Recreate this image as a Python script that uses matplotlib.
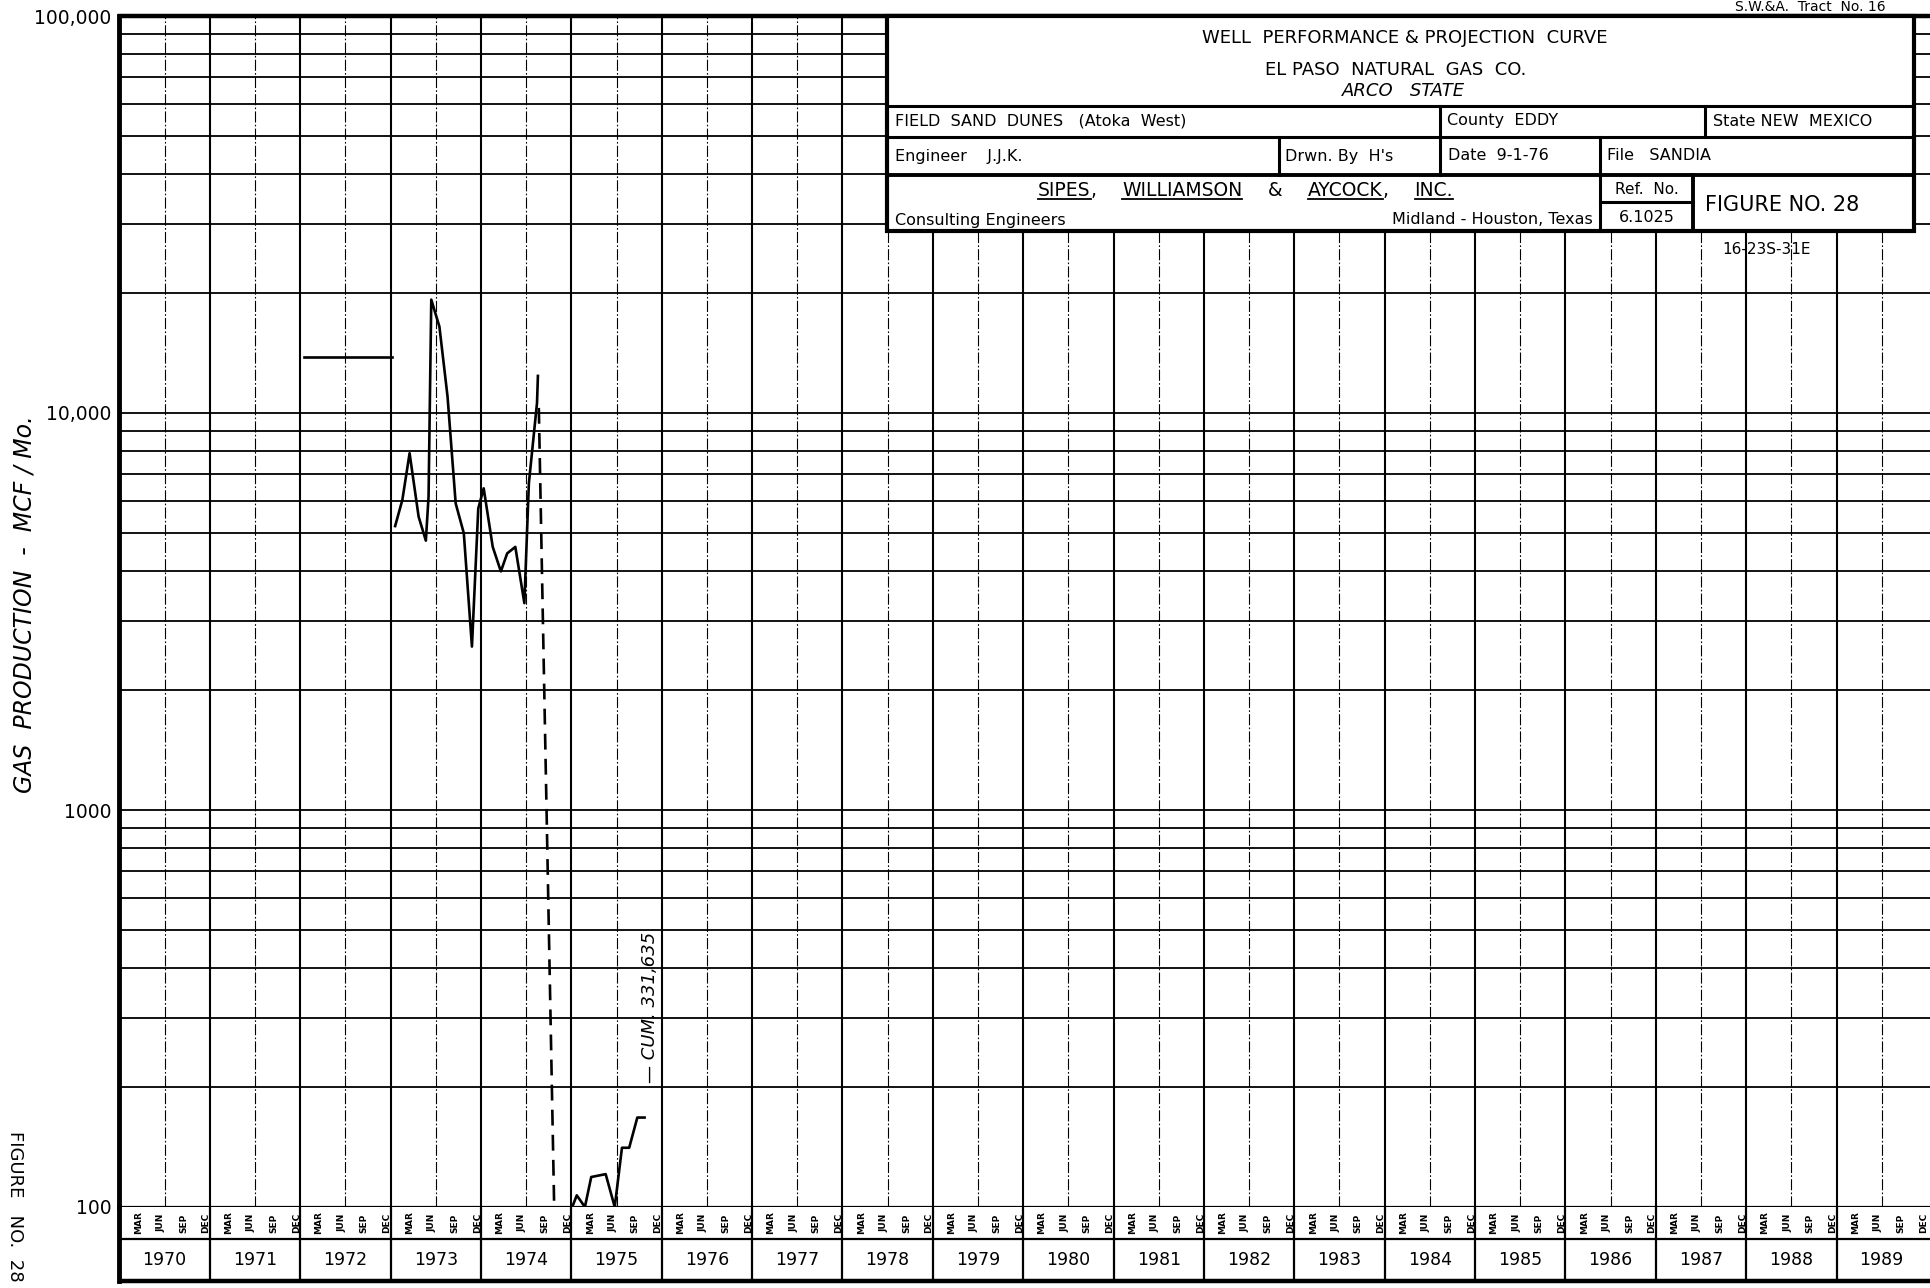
import matplotlib.pyplot as plt
from matplotlib.lines import Line2D
from matplotlib.patches import Rectangle
from matplotlib.ticker import NullFormatter

# --- data (time in decimal years, gas rate in MCF/Mo.) ---
avg_1972_t = [1972.04, 1973.01]
avg_1972_q = [13800, 13800]

prod_t = [1973.05, 1973.13, 1973.21, 1973.31, 1973.39, 1973.42, 1973.45, 1973.54,
          1973.63, 1973.72, 1973.81, 1973.90, 1973.97, 1974.03, 1974.13, 1974.22,
          1974.29, 1974.38, 1974.48, 1974.53, 1974.62, 1974.63]
prod_q = [5190, 6040, 7920, 5480, 4770, 6160, 19300, 16500,
          11000, 5920, 4980, 2580, 5750, 6460, 4600, 3990,
          4430, 4600, 3320, 6650, 10600, 12400]

drop_t = [1974.64, 1974.81]
drop_q = [10300, 100]

prod_1975_t = [1975.01, 1975.06, 1975.15, 1975.22, 1975.38, 1975.48, 1975.56,
               1975.64, 1975.73, 1975.81]
prod_1975_q = [100, 107, 100, 119, 121, 100, 141, 141, 168, 168]

cum_t = 1975.87
cum_q = 205
cum_label = "\u2014 CUM. 331,635"

years = list(range(1970, 1990))
months = ["MAR", "JUN", "SEP", "DEC"]
y_ticks = [100, 1000, 10000, 100000]
y_tick_labels = ["100", "1000", "10,000", "100,000"]

# --- layout, in pixels of the 1931x1288 sheet ---
W, H = 1931, 1288
X0 = 119.5          # left border of the grid
YEAR_PX = 90.37     # width of one year
x_max = 1970 + (W - X0) / YEAR_PX


def fx(px):
    return px / W


def fy(py):
    return 1 - py / H


plt.rcParams["font.family"] = "DejaVu Sans"
fig = plt.figure(figsize=(W / 100, H / 100), dpi=100)

# main semi-log grid
ax = fig.add_axes([fx(X0), fy(1207), 1 - fx(X0), fy(16) - fy(1207)])
ax.set_yscale("log")
ax.set_ylim(100, 100000)
ax.set_xlim(1970, x_max)

for base in (100, 1000, 10000):
    for m in range(1, 10):
        if base * m == 100:
            continue
        ax.axhline(base * m, color="black", lw=1.3, zorder=1)
for yr in years[1:]:
    ax.axvline(yr, color="black", lw=1.5, zorder=1)
for yr in years:
    ax.axvline(yr + 0.5, color="black", lw=0.8, ls=(0, (10, 2, 1.5, 2)), zorder=1)

ax.spines["right"].set_visible(False)
ax.spines["left"].set_linewidth(3.5)
ax.spines["top"].set_linewidth(3.2)
ax.spines["bottom"].set_linewidth(1.6)
ax.set_xticks([])
ax.set_yticks(y_ticks, y_tick_labels)
ax.yaxis.set_minor_formatter(NullFormatter())
ax.tick_params(axis="y", which="both", length=0, pad=6, labelsize=13.5)

# production curve
ax.plot(avg_1972_t, avg_1972_q, color="black", lw=1.9, zorder=3)
ax.plot(prod_t, prod_q, color="black", lw=1.9, zorder=3)
ax.plot(drop_t, drop_q, color="black", lw=1.9, ls=(0, (6, 3.5)), zorder=3, clip_on=False)
ax.plot(prod_1975_t, prod_1975_q, color="black", lw=1.9, zorder=3, clip_on=False)
ax.text(cum_t, cum_q, cum_label, rotation=90, ha="center", va="bottom",
        fontsize=13, style="italic", zorder=4)

# month / year band under the grid
bx = fig.add_axes([fx(X0), fy(1281), 1 - fx(X0), fy(1207) - fy(1281)])
bx.set_xlim(1970, x_max)
bx.set_ylim(0, 1)
split = (1281 - 1239) / 74
bx.axhline(split, color="black", lw=1.6)
bx.vlines(years[1:], 0, 1, color="black", lw=1.6)
for yr in years:
    for i, name in enumerate(months):
        bx.text(yr + (3 * i + 2.5) / 12, (1 + split) / 2, name, rotation=90,
                ha="center", va="center", fontsize=6.5, fontweight="bold")
    bx.text(yr + 0.5, split / 2, str(yr), ha="center", va="center", fontsize=12.5)
bx.spines["right"].set_visible(False)
bx.spines["top"].set_visible(False)
bx.spines["left"].set_linewidth(3.5)
bx.spines["bottom"].set_linewidth(3.2)
bx.set_xticks([])
bx.set_yticks([])

# axis titles on the left margin
fig.text(fx(25), fy(604), "GAS  PRODUCTION  -  MCF / Mo.", rotation=90,
         ha="center", va="center", fontsize=17, style="italic")
fig.text(fx(15), fy(1206), "FIGURE   NO.  28", rotation=270,
         ha="center", va="center", fontsize=13)


# --- title block ---
def line_px(x0, y0, x1, y1, lw=2.2):
    fig.add_artist(Line2D([fx(x0), fx(x1)], [fy(y0), fy(y1)],
                          transform=fig.transFigure, color="black", lw=lw, zorder=6))


def text_px(x, y, s, **kw):
    return fig.text(fx(x), fy(y), s, zorder=7, **kw)


fig.add_artist(Rectangle((fx(887), fy(231)), fx(1914) - fx(887), fy(16) - fy(231),
                         transform=fig.transFigure, facecolor="white",
                         edgecolor="black", lw=3, zorder=5))
line_px(887, 106, 1914, 106)
line_px(887, 137, 1914, 137)
line_px(887, 175, 1914, 175, lw=2.8)
line_px(1440, 106, 1440, 137)
line_px(1705, 106, 1705, 137)
line_px(1279, 137, 1279, 175)
line_px(1440, 137, 1440, 175)
line_px(1600, 137, 1600, 175)
line_px(1600, 175, 1600, 231)
line_px(1693, 175, 1693, 231, lw=2.8)
line_px(1600, 202, 1693, 202)

text_px(1405, 38, "WELL  PERFORMANCE & PROJECTION  CURVE", ha="center", va="center", fontsize=13)
text_px(1396, 70, "EL PASO  NATURAL  GAS  CO.", ha="center", va="center", fontsize=13)
text_px(1404, 91, "ARCO   STATE", ha="center", va="center", fontsize=13, style="italic")
text_px(895, 121, "FIELD  SAND  DUNES   (Atoka  West)", va="center", fontsize=11.5)
text_px(1447, 121, "County  EDDY", va="center", fontsize=11.5)
text_px(1713, 121, "State NEW  MEXICO", va="center", fontsize=11.5)
text_px(895, 156, "Engineer    J.J.K.", va="center", fontsize=11.5)
text_px(1285, 156, "Drwn. By  H's", va="center", fontsize=11.5)
text_px(1448, 156, "Date  9-1-76", va="center", fontsize=11.5)
text_px(1607, 156, "File   SANDIA", va="center", fontsize=11.5)
text_px(895, 220, "Consulting Engineers", va="center", fontsize=11.5)
text_px(1593, 220, "Midland - Houston, Texas", ha="right", va="center", fontsize=11.5)
text_px(1647, 189, "Ref.  No.", ha="center", va="center", fontsize=11)
text_px(1647, 218, "6.1025", ha="center", va="center", fontsize=11.5)
text_px(1782, 205, "FIGURE NO. 28", ha="center", va="center", fontsize=15)
text_px(1767, 250, "16-23S-31E", ha="center", va="center", fontsize=11)
text_px(1810, 7, "S.W.&A.  Tract  No. 16", ha="center", va="center", fontsize=10)

# firm name with underlined words
renderer = fig.canvas.get_renderer()
pieces = [("SIPES", True), (",", False), ("WILLIAMSON", True), ("&", False),
          ("AYCOCK", True), (",", False), ("INC.", True)]
gaps = [0, 1, 1, 1, 0, 1]
texts = [text_px(0, 196, s, va="baseline", fontsize=13.5) for s, _ in pieces]
widths = [t.get_window_extent(renderer).width for t in texts]
gap = (1453 - 1038 - sum(widths)) / sum(gaps)
x = 1038
for i, (t, (s, under)) in enumerate(zip(texts, pieces)):
    t.set_x(fx(x))
    if under:
        line_px(x, 199, x + widths[i], 199, lw=1.3)
    x += widths[i]
    if i < len(gaps):
        x += gap * gaps[i]

fig.savefig("out.png", dpi=100, facecolor="white")
